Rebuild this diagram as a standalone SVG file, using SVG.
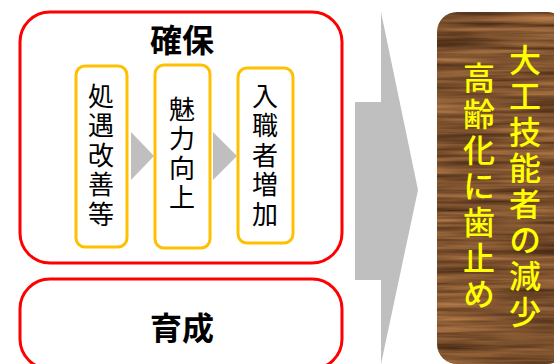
<svg xmlns="http://www.w3.org/2000/svg" width="554" height="364" viewBox="0 0 554 364">
<defs>
<style>
.red{fill:#fff;stroke:#ff0000;stroke-width:3}
.org{fill:#fff;stroke:#ffc000;stroke-width:3}
.gray{fill:#bfbfbf}
.title{font-family:"Noto Sans CJK JP","Noto Sans CJK SC",sans-serif;font-weight:bold;font-size:32px;fill:#000;text-anchor:middle}
.vt{font-family:"Noto Sans CJK JP","Noto Sans CJK SC",sans-serif;font-size:26px;fill:#000;writing-mode:vertical-rl;letter-spacing:3.5px}
.yt{font-family:"Noto Sans CJK JP","Noto Sans CJK SC",sans-serif;font-weight:500;font-size:32px;fill:#ffff00;writing-mode:vertical-rl;letter-spacing:4px}
</style>
<filter id="wood" x="0" y="0" width="1" height="1" color-interpolation-filters="sRGB">
<feTurbulence type="fractalNoise" baseFrequency="0.008 0.18" numOctaves="3" seed="4" result="n"/>
<feColorMatrix in="n" type="matrix" values="0.6 0 0 0 0.19  0.45 0 0 0 0.095  0.28 0 0 0 0.04  0 0 0 0 1" result="c"/>
<feComposite in="c" in2="SourceGraphic" operator="in"/>
</filter>
</defs>
<g id="kakuho">
<rect class="red" x="20" y="12" width="322" height="251" rx="30"/>
<text class="title" x="182" y="52">確保</text>
</g>
<g id="ikusei">
<rect class="red" x="20" y="279" width="322" height="90" rx="30"/>
<text class="title" x="182" y="340">育成</text>
</g>
<g id="shogu">
<rect class="org" x="76" y="66" width="51" height="181" rx="9"/>
<text class="vt" x="101" y="83">処遇改善等</text>
</g>
<g id="miryoku">
<rect class="org" x="155" y="65" width="55" height="183" rx="9"/>
<text class="vt" x="182" y="96">魅力向上</text>
</g>
<g id="nyushoku">
<rect class="org" x="238" y="68" width="55" height="175" rx="9"/>
<text class="vt" x="265" y="83">入職者増加</text>
</g>
<g id="connectors">
<polygon class="gray" points="131,132 154,156 131,180"/>
<polygon class="gray" points="213,132 237,156 213,180"/>
<polygon class="gray" points="355,102 381,102 381,12 418,190 381,364 381,280 355,280"/>
</g>
<g id="result">
<rect x="437" y="12" width="130" height="352" rx="20" fill="#8a5a2e" filter="url(#wood)"/>
<text class="yt" x="525" y="44">大工技能者の減少</text>
<text class="yt" x="479" y="62">高齢化に歯止め</text>
</g>
</svg>
